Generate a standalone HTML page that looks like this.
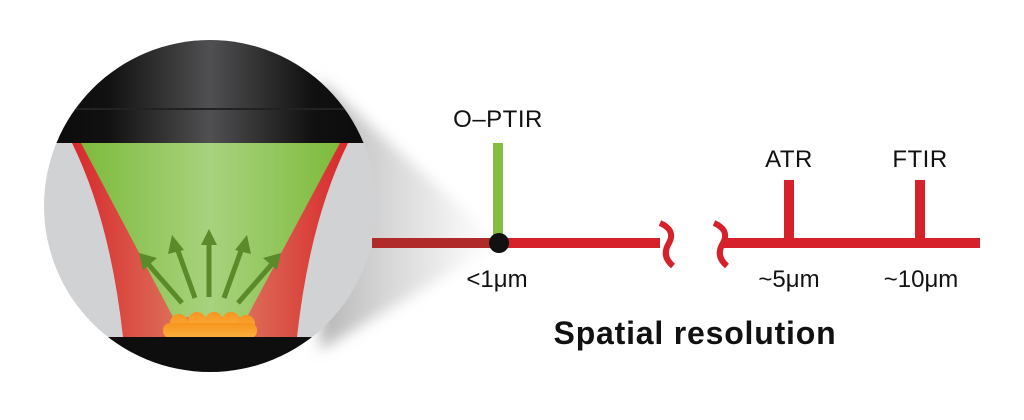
<!DOCTYPE html>
<html><head><meta charset="utf-8"><style>
html,body{margin:0;padding:0;background:#fff;}
svg{display:block;}
text{font-family:"Liberation Sans",sans-serif;fill:#111;}
</style></head><body>
<svg width="1024" height="420" viewBox="0 0 1024 420" xmlns="http://www.w3.org/2000/svg">
<defs>
<clipPath id="c"><circle cx="210" cy="206" r="166"/></clipPath>
<linearGradient id="blk" x1="0" x2="1" y1="0" y2="0">
<stop offset="0" stop-color="#0a0a0a"/><stop offset="0.2" stop-color="#111"/><stop offset="0.5" stop-color="#505052"/><stop offset="0.8" stop-color="#111"/><stop offset="1" stop-color="#0a0a0a"/></linearGradient>
<linearGradient id="grn" x1="0" x2="1" y1="0" y2="0">
<stop offset="0" stop-color="#7dbb3c"/><stop offset="0.5" stop-color="#a8d27e"/><stop offset="1" stop-color="#7dbb3c"/></linearGradient>
<linearGradient id="red" x1="0" x2="1" y1="0" y2="0">
<stop offset="0" stop-color="#d8282c"/><stop offset="0.35" stop-color="#dc6a55"/><stop offset="0.5" stop-color="#e08a70"/><stop offset="0.65" stop-color="#dc6a55"/><stop offset="1" stop-color="#d8282c"/></linearGradient>
<linearGradient id="org" x1="0" x2="0" y1="0" y2="1">
<stop offset="0" stop-color="#f7941d"/><stop offset="1" stop-color="#fbb040"/></linearGradient>
<linearGradient id="sh" x1="0" x2="1" y1="0" y2="0">
<stop offset="0" stop-color="#b5b5b5" stop-opacity="1"/><stop offset="0.6" stop-color="#d5d5d5" stop-opacity="0.6"/><stop offset="1" stop-color="#e5e5e5" stop-opacity="0"/></linearGradient>
<filter id="bl"><feGaussianBlur stdDeviation="7"/></filter>
</defs>
<polygon points="320,80 500,243 320,350" fill="url(#sh)" filter="url(#bl)"/>
<g clip-path="url(#c)">
<rect x="40" y="30" width="340" height="350" fill="#d1d2d4"/>
<rect x="40" y="30" width="340" height="113" fill="url(#blk)"/>
<line x1="40" y1="109" x2="380" y2="109" stroke="#222" stroke-width="2"/>
<path d="M72,143 Q110,220 123,337 L297,337 Q310,220 348,143 Z" fill="url(#red)"/>
<path d="M81,143 L340,143 L247,317 L173,317 Z" fill="url(#grn)"/>
<g fill="url(#org)">
<circle cx="179" cy="323" r="9"/><circle cx="197" cy="321" r="9"/><circle cx="214" cy="321" r="9"/><circle cx="231" cy="321" r="9"/><circle cx="246" cy="324" r="9"/>
<rect x="163" y="323" width="94" height="15" rx="7"/>
</g>
<rect x="40" y="337" width="340" height="50" fill="#0e0e0e"/>
</g>
<g stroke="#5a8a2a" stroke-width="5" fill="#5a8a2a">
<line x1="182" y1="303" x2="148" y2="264"/><polygon points="139,253 157,258 143,270" stroke="none"/>
<line x1="195" y1="298" x2="177" y2="248"/><polygon points="172,235 184,250 168,254" stroke="none"/>
<line x1="209" y1="297" x2="209" y2="243"/><polygon points="209,229 217,245 201,245" stroke="none"/>
<line x1="224" y1="298" x2="242" y2="248"/><polygon points="247,235 251,254 235,250" stroke="none"/>
<line x1="238" y1="303" x2="272" y2="264"/><polygon points="281,253 277,270 263,258" stroke="none"/>
</g>
<rect x="372" y="238" width="125" height="10" fill="#b02a2a"/>
<rect x="497" y="238" width="163" height="10" fill="#d6212b"/>
<rect x="722" y="238" width="258" height="10" fill="#d6212b"/>
<path d="M660,223 Q676,230 669,243 Q661,256 673,266" fill="none" stroke="#d6212b" stroke-width="6"/>
<path d="M714,223 Q730,230 723,243 Q715,256 727,266" fill="none" stroke="#d6212b" stroke-width="6"/>
<rect x="493" y="143" width="10" height="100" fill="#84bd3f"/>
<rect x="784" y="180" width="10" height="62" fill="#d6212b"/>
<rect x="915" y="180" width="10" height="62" fill="#d6212b"/>
<circle cx="499" cy="243" r="10" fill="#111"/>
<text x="498" y="127" font-size="24" text-anchor="middle" letter-spacing="0.5">O–PTIR</text>
<text x="789" y="167" font-size="24" text-anchor="middle" letter-spacing="0.5">ATR</text>
<text x="920" y="167" font-size="24" text-anchor="middle" letter-spacing="0.5">FTIR</text>
<text x="497" y="287" font-size="24" text-anchor="middle">&lt;1μm</text>
<text x="789" y="287" font-size="24" text-anchor="middle">~5μm</text>
<text x="921" y="287" font-size="24" text-anchor="middle">~10μm</text>
<text x="695" y="344" font-size="32" font-weight="bold" text-anchor="middle" letter-spacing="0.8">Spatial resolution</text>
</svg>
</body></html>
